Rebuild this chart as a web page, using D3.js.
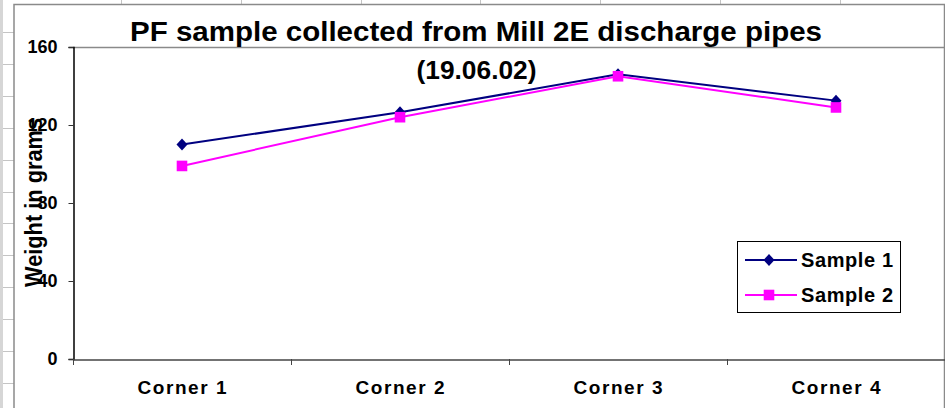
<!DOCTYPE html>
<html>
<head>
<meta charset="utf-8">
<script src="https://cdn.jsdelivr.net/npm/d3@7"></script>
<style>
  html, body { margin: 0; padding: 0; background: #ffffff; }
  svg { display: block; }
  text { font-family: "Liberation Sans", Arial, sans-serif; font-weight: bold; fill: #000; }
</style>
</head>
<body>
<svg id="chart" width="945" height="408"></svg>
<script>
// ---- data ----
const categories = ["Corner 1", "Corner 2", "Corner 3", "Corner 4"];
const sample1 = [110, 126.5, 146, 132.5];
const sample2 = [99, 124, 145, 129];
const seriesNames = ["Sample 1", "Sample 2"];
const yTicks = [0, 40, 80, 120, 160];
const titleText = "PF sample collected from Mill 2E discharge pipes";
const subtitleText = "(19.06.02)";
const yAxisTitle = "Weight in grams";

const svg = d3.select("#chart");
const W = 945, H = 408;
const plot = { left: 73, right: 945, top: 47, bottom: 359 };

// ---- spreadsheet background bits ----
const bg = svg.append("g");
bg.append("rect").attr("x", 0).attr("y", 0).attr("width", 3).attr("height", H).attr("fill", "#d6d6d6");
bg.selectAll("line.row").data(d3.range(32, H, 31.9)).join("line")
  .attr("x1", 3).attr("x2", 14).attr("y1", d => Math.round(d) + 0.5).attr("y2", d => Math.round(d) + 0.5)
  .attr("stroke", "#c4c4c4");
bg.selectAll("line.col").data(d3.range(121, W, 119.8)).join("line")
  .attr("x1", d => Math.round(d) + 0.5).attr("x2", d => Math.round(d) + 0.5).attr("y1", 0).attr("y2", 4)
  .attr("stroke", "#c4c4c4");
// chart frame
bg.append("path")
  .attr("d", `M14,${H} L14,4.5 L944.5,4.5 L944.5,${H}`)
  .attr("fill", "none").attr("stroke", "#8a8a8a").attr("stroke-width", 1.5);

// ---- scales ----
const x = d3.scaleBand().domain(categories).range([plot.left, plot.right]).padding(0);
const y = d3.scaleLinear().domain([0, 160]).range([plot.bottom, plot.top]);
const cx = c => x(c) + x.bandwidth() / 2;

// plot area top border
svg.append("line")
  .attr("x1", plot.left).attr("x2", 944).attr("y1", plot.top + 0.5).attr("y2", plot.top + 0.5)
  .attr("stroke", "#8a8a8a").attr("stroke-width", 1.5);

// ---- y axis ----
const yAxis = d3.axisLeft(y).tickValues(yTicks).tickSize(5).tickPadding(11).tickFormat(d3.format("d"));
const gy = svg.append("g").attr("transform", `translate(${plot.left + 0.5},0)`).call(yAxis);
gy.select(".domain").attr("stroke", "#000").attr("stroke-width", 1.5);
gy.selectAll(".tick line").attr("stroke", "#333");
gy.selectAll(".tick text")
  .style("font-family", "'Liberation Sans', Arial, sans-serif")
  .style("font-weight", "bold").style("font-size", "18px").attr("fill", "#000");

// ---- x axis ----
const xAxis = d3.axisBottom(x).tickSize(0).tickPadding(0).tickFormat("");
const gx = svg.append("g").attr("transform", `translate(0,${plot.bottom + 0.5})`).call(xAxis);
gx.select(".domain").attr("stroke", "#444").attr("stroke-width", 1.5);
// category boundary ticks
svg.append("g").selectAll("line").data(categories).join("line")
  .attr("x1", d => Math.round(x(d)) + 0.5).attr("x2", d => Math.round(x(d)) + 0.5)
  .attr("y1", plot.bottom).attr("y2", plot.bottom + 6)
  .attr("stroke", "#444");
svg.append("g").selectAll("text").data(categories).join("text")
  .attr("x", d => cx(d)).attr("y", 394)
  .attr("text-anchor", "middle")
  .attr("textLength", 89).attr("lengthAdjust", "spacing")
  .style("font-size", "19px")
  .text(d => d);

// ---- titles ----
svg.append("text").attr("x", 476).attr("y", 40.5).attr("text-anchor", "middle")
  .attr("textLength", 692).attr("lengthAdjust", "spacingAndGlyphs")
  .style("font-size", "28px").text(titleText);
svg.append("text").attr("x", 476.5).attr("y", 78.5).attr("text-anchor", "middle")
  .attr("textLength", 120).attr("lengthAdjust", "spacingAndGlyphs")
  .style("font-size", "25px").text(subtitleText);
svg.append("text")
  .attr("transform", "translate(41.5,202.5) rotate(-90)")
  .attr("text-anchor", "middle")
  .attr("textLength", 169).attr("lengthAdjust", "spacingAndGlyphs")
  .style("font-size", "23px").text(yAxisTitle);

// ---- series ----
const series = [
  { name: seriesNames[0], values: sample1, color: "#000080", shape: "diamond" },
  { name: seriesNames[1], values: sample2, color: "#ff00ff", shape: "square" }
];
const diamond = "M0,-6L5.5,0L0,6L-5.5,0Z";
const square = "M-5.3,-5.3H5.3V5.3H-5.3Z";
const line = d3.line().x(d => cx(d.c)).y(d => y(d.v));

series.forEach(s => {
  const pts = categories.map((c, i) => ({ c, v: s.values[i] }));
  const g = svg.append("g");
  g.append("path").datum(pts).attr("d", line)
    .attr("fill", "none").attr("stroke", s.color).attr("stroke-width", 2);
  g.selectAll("path.m").data(pts).join("path")
    .attr("class", "m")
    .attr("transform", d => `translate(${cx(d.c)},${y(d.v)})`)
    .attr("d", s.shape === "diamond" ? diamond : square)
    .attr("fill", s.color);
});

// ---- legend ----
const lg = svg.append("g");
lg.append("rect").attr("x", 737.5).attr("y", 241.5).attr("width", 163).attr("height", 71)
  .attr("fill", "#fff").attr("stroke", "#000").attr("stroke-width", 1);
series.forEach((s, i) => {
  const yy = 260 + i * 35;
  lg.append("line").attr("x1", 745).attr("x2", 797).attr("y1", yy).attr("y2", yy)
    .attr("stroke", s.color).attr("stroke-width", 2);
  lg.append("path").attr("transform", `translate(769,${yy})`)
    .attr("d", s.shape === "diamond" ? diamond : square).attr("fill", s.color);
  lg.append("text").attr("x", 801).attr("y", yy + 6.5)
    .attr("textLength", 92).attr("lengthAdjust", "spacing")
    .style("font-size", "20px").text(s.name);
});
</script>
</body>
</html>
